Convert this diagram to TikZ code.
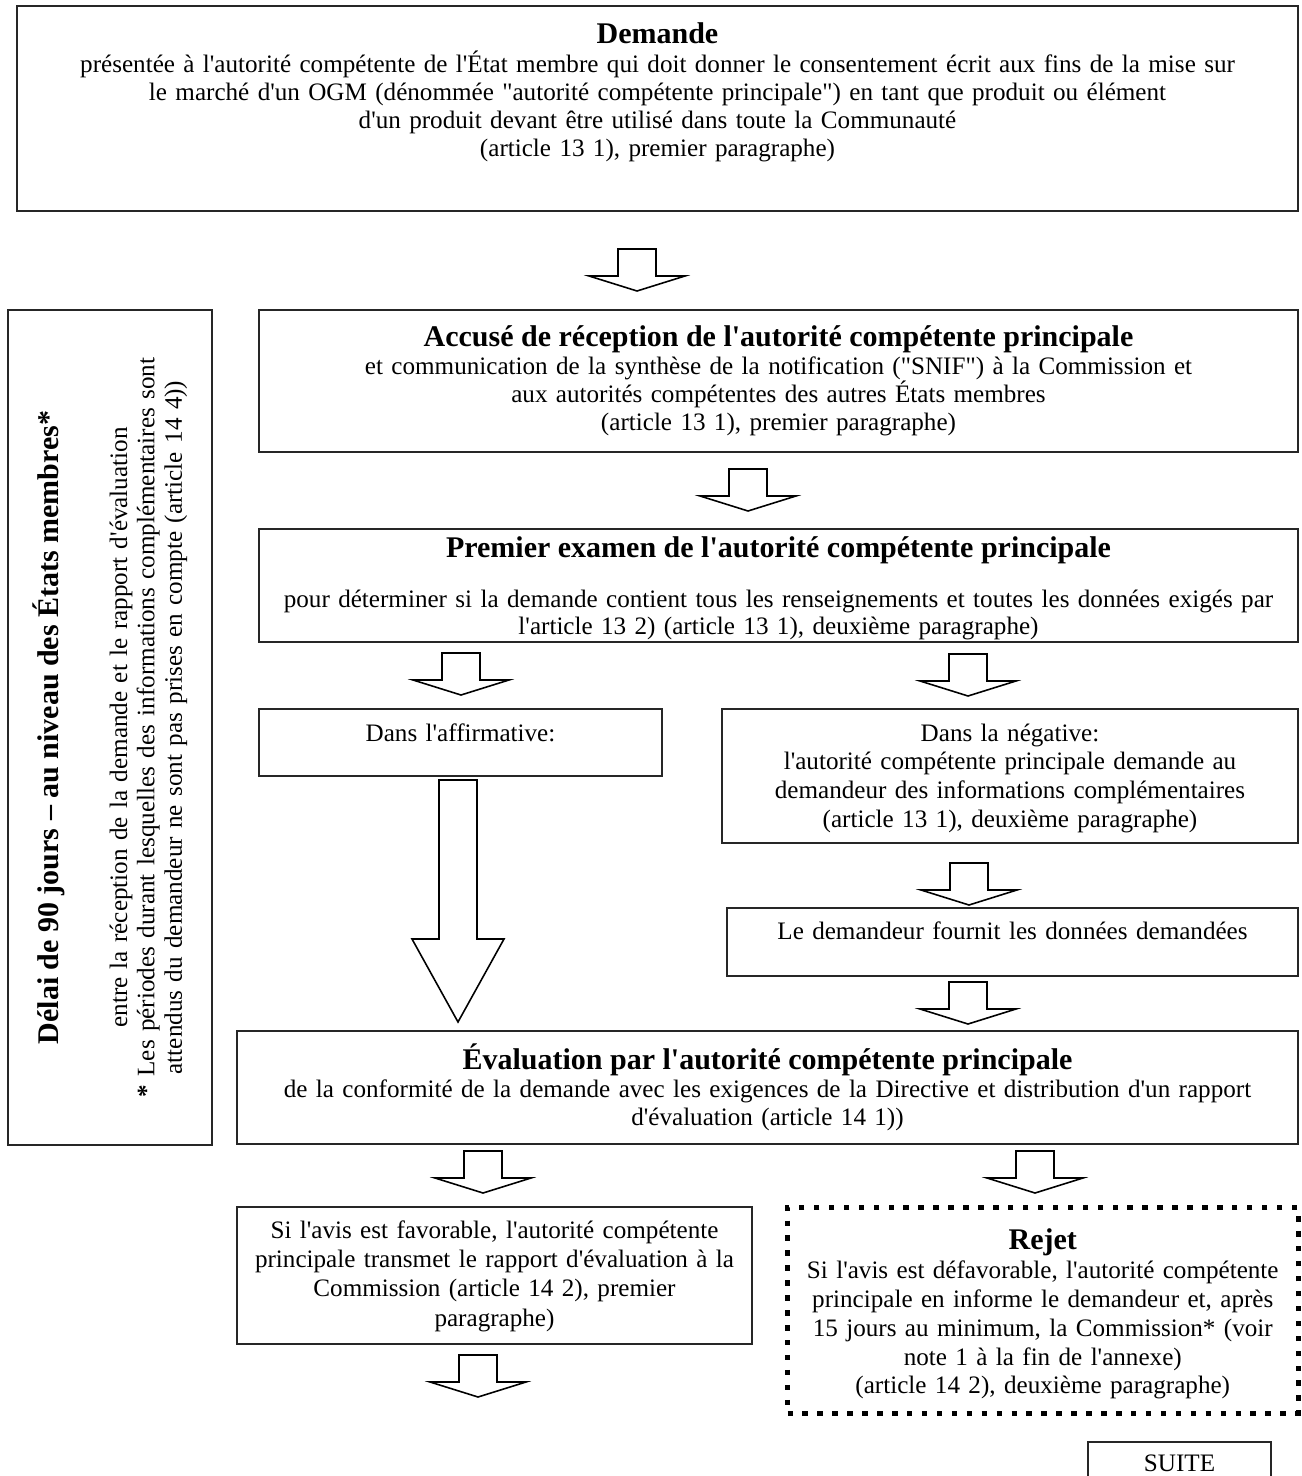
\documentclass[tikz,border=0pt]{standalone}
\usepackage{fontspec}
\setmainfont{Liberation Serif}[Ligatures=TeXOff]
\usetikzlibrary{fit}
\newcommand\bodyfnt[1]{\fontsize{14.3pt}{#1}\selectfont\lineskiplimit=-50pt\relax}
\newcommand\ttlfnt{\fontsize{17.07pt}{20pt}\selectfont\bfseries}
\newcommand\blkarrow[2]{\draw[blk] (#1-19,#2) -- (#1+19,#2) -- (#1+19,#2+27) -- (#1+48,#2+27) -- (#1,#2+42) -- (#1-48,#2+27) -- (#1-19,#2+27) -- cycle;}
\begin{document}
\begin{tikzpicture}[x=0.02cm,y=-0.02cm,
  box/.style={draw=black!85,line width=0.6pt,inner sep=0pt},
  dotbox/.style={draw=black,line width=2.85pt,dash pattern=on 3.1pt off 5.4pt,inner sep=0pt},
  blk/.style={draw=black,line width=0.9pt,line join=miter},
  txt/.style={anchor=base,inner sep=0pt,align=center,text width=#1},
  ttl/.style={anchor=base,inner sep=0pt,font=\ttlfnt}]
\useasboundingbox (0,0) rectangle (1301,1476);

% Demande
\node[box,fit={(17,6) (1298,211)}] (demande) {};
\node[ttl] (demandeT) at (657.5,44) {Demande};
\node[txt=25cm,font=\bodyfnt{15.93pt}] (demandeB) at (657.5,73) {présentée à l'autorité compétente de l'État membre qui doit donner le consentement écrit aux fins de la mise sur\\le marché d'un OGM (dénommée "autorité compétente principale") en tant que produit ou élément\\d'un produit devant être utilisé dans toute la Communauté\\(article 13 1), premier paragraphe)};

% Left box
\node[box,fit={(8,310) (212,1145)}] (delai) {};
\node[ttl,rotate=90] (delaiT) at (58,727.5) {Délai de 90 jours – au niveau des États membres*};
\node[txt=16cm,font=\bodyfnt{15.65pt},rotate=90] (delaiB) at (127,727.5) {entre la réception de la demande et le rapport d'évaluation\\\mbox{\textbf{*}} Les périodes durant lesquelles des informations complémentaires sont\\attendus du demandeur ne sont pas prises en compte (article 14 4))};

% Accuse
\node[box,fit={(259,310) (1298,452)}] (accuse) {};
\node[ttl] (accuseT) at (778.5,347) {Accusé de réception de l'autorité compétente principale};
\node[txt=20cm,font=\bodyfnt{15.93pt}] (accuseB) at (778.5,375) {et communication de la synthèse de la notification ("SNIF") à la Commission et\\aux autorités compétentes des autres États membres\\(article 13 1), premier paragraphe)};

% Premier examen
\node[box,fit={(259,529) (1298,642)}] (premier) {};
\node[ttl] (premierT) at (778.5,557) {Premier examen de l'autorité compétente principale};
\node[txt=20.5cm,font=\bodyfnt{15.4pt}] (premierB) at (778.5,607) {pour déterminer si la demande contient tous les renseignements et toutes les données exigés par\\l'article 13 2) (article 13 1), deuxième paragraphe)};

% Affirmative / negative
\node[box,fit={(259,709) (662,776)}] (affirm) {};
\node[txt=7.5cm,font=\bodyfnt{16.4pt}] (affirmT) at (460.5,741) {Dans l'affirmative:};
\node[box,fit={(722,709) (1298,843)}] (negat) {};
\node[txt=11cm,font=\bodyfnt{16.4pt}] (negatT) at (1010,741) {Dans la négative:\\l'autorité compétente principale demande au\\demandeur des informations complémentaires\\(article 13 1), deuxième paragraphe)};

\node[box,fit={(727,908) (1298,976)}] (fournit) {};
\node[txt=11cm,font=\bodyfnt{16.4pt}] (fournitT) at (1012.5,939) {Le demandeur fournit les données demandées};

% Evaluation
\node[box,fit={(237,1031) (1298,1144)}] (evalu) {};
\node[ttl] (evaluT) at (767.5,1069) {Évaluation par l'autorité compétente principale};
\node[txt=20.8cm,font=\bodyfnt{16.1pt}] (evaluB) at (767.5,1097.5) {de la conformité de la demande avec les exigences de la Directive et distribution d'un rapport\\d'évaluation (article 14 1))};

% Favorable
\node[box,fit={(237,1207) (752,1344)}] (favor) {};
\node[txt=10.2cm,font=\bodyfnt{16.6pt}] (favorT) at (494.5,1238.5) {Si l'avis est favorable, l'autorité compétente\\principale transmet le rapport d'évaluation à la\\Commission (article 14 2), premier\\paragraphe)};

% Rejet
\node[dotbox,fit={(787.5,1207.5) (1298,1413)}] (rejet) {};
\node[ttl] (rejetT) at (1042.75,1249) {Rejet};
\node[txt=10cm,font=\bodyfnt{16.4pt}] (rejetB) at (1042.75,1278.7) {Si l'avis est défavorable, l'autorité compétente\\principale en informe le demandeur et, après\\15 jours au minimum, la Commission* (voir\\note 1 à la fin de l'annexe)\\(article 14 2), deuxième paragraphe)};

% Suite
\node[box,fit={(1088,1442) (1271,1500)}] (suite) {};
\node[txt=3.5cm,font=\bodyfnt{16pt}] (suiteT) at (1179.5,1471) {SUITE};

% block arrows
\blkarrow{637}{249}
\blkarrow{748}{469}
\blkarrow{461}{653}
\blkarrow{968}{654}
\blkarrow{969}{863}
\blkarrow{968}{982}
\blkarrow{483}{1151}
\blkarrow{1035}{1151}
\blkarrow{478}{1355}
\draw[blk] (439,780) -- (477,780) -- (477,939) -- (504,939) -- (458,1022) -- (412,939) -- (439,939) -- cycle;
\end{tikzpicture}
\end{document}
